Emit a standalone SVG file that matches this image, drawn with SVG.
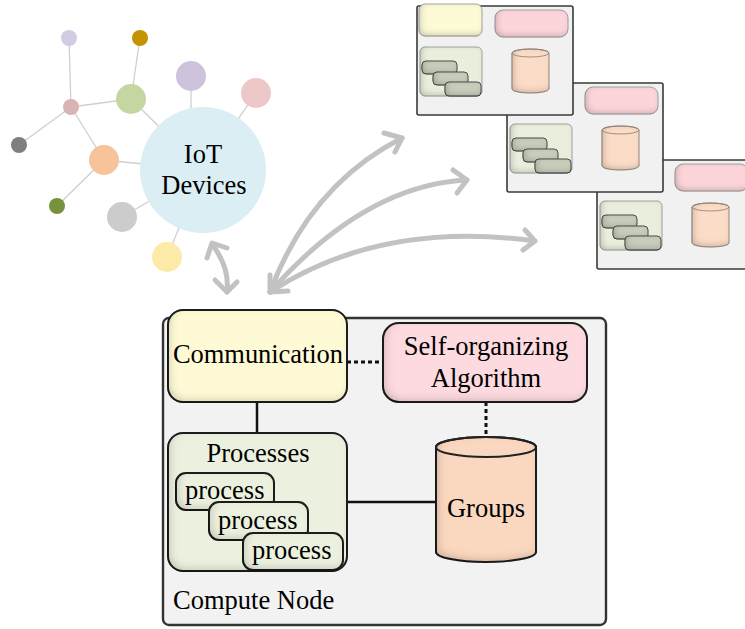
<svg xmlns="http://www.w3.org/2000/svg" width="745" height="629" viewBox="0 0 745 629">
  <style>
    text { font-family: "Liberation Serif", "Times New Roman", serif; font-size: 26.5px; fill: #000; }
    .mid { text-anchor: middle; }
    .net line { stroke: #cfcfcf; stroke-width: 1.3; }
    .frame { fill: #f2f2f2; stroke: #333; stroke-width: 2.4; }
    .box { stroke: #222; stroke-width: 2; filter: url(#inner); }
    .comm { fill: #fffad6; }
    .algo { fill: #fcdadf; }
    .procs { fill: #ebf1de; }
    .proc { fill: #ebf1de; stroke: #222; stroke-width: 2; filter: url(#inner); }
    .cyl { fill: #fad7bf; stroke: #222; stroke-width: 2; filter: url(#inner); }
    .link { stroke: #111; stroke-width: 2.5; fill: none; }
    .dash { stroke: #111; stroke-width: 3; fill: none; stroke-dasharray: 4 3; }
    .flow { stroke: #c2c2c2; stroke-width: 5; fill: none; stroke-linecap: round; stroke-linejoin: round; }
    .mframe { fill: #f1f1f1; stroke: #3a3a3a; stroke-width: 1.6; }
    .mbox { stroke: #9a9a9a; stroke-width: 0.8; filter: url(#innerSmall); }
    .mproc { fill: #c8cebb; stroke: #555; stroke-width: 1; filter: url(#innerSmall); }
    .mcyl { fill: #fbdcc6; stroke: #8a7a70; stroke-width: 0.8; filter: url(#innerSmall); }
  </style>
  <defs>
    <!-- soft inner shading along the lower-left edges -->
    <filter id="inner" x="-5%" y="-5%" width="110%" height="110%">
      <feGaussianBlur in="SourceAlpha" stdDeviation="4"/>
      <feOffset dx="3" dy="-3" result="b"/>
      <feComposite in="SourceAlpha" in2="b" operator="out" result="edge"/>
      <feFlood flood-color="#000" flood-opacity="0.38"/>
      <feComposite in2="edge" operator="in" result="shade"/>
      <feMerge><feMergeNode in="SourceGraphic"/><feMergeNode in="shade"/></feMerge>
    </filter>
    <filter id="innerSmall" x="-5%" y="-5%" width="110%" height="110%">
      <feGaussianBlur in="SourceAlpha" stdDeviation="3"/>
      <feOffset dx="2" dy="-2" result="b"/>
      <feComposite in="SourceAlpha" in2="b" operator="out" result="edge"/>
      <feFlood flood-color="#000" flood-opacity="0.42"/>
      <feComposite in2="edge" operator="in" result="shade"/>
      <feMerge><feMergeNode in="SourceGraphic"/><feMergeNode in="shade"/></feMerge>
    </filter>
    <!-- thumbnail of a compute node -->
    <g id="mini">
      <rect class="mframe" x="417" y="6" width="156" height="109" rx="2"/>
      <rect class="mbox" x="419" y="4" width="63" height="32" rx="6" fill="#fdfad6"/>
      <rect class="mbox" x="495" y="10" width="73" height="27" rx="8" fill="#fcd5da" stroke="#a08088"/>
      <rect class="mbox" x="420" y="47" width="62" height="49" rx="5" fill="#e9efdc"/>
      <rect class="mproc" x="422" y="61" width="35" height="13" rx="4"/>
      <rect class="mproc" x="433" y="72" width="35" height="13" rx="4"/>
      <rect class="mproc" x="445" y="82" width="36" height="14" rx="4"/>
      <path class="mcyl" d="M512,53 V89 A18.5,4 0 0 0 549,89 V53 A18.5,4 0 0 0 512,53 Z"/>
      <ellipse cx="530.5" cy="53" rx="18.5" ry="4" fill="none" stroke="#8a7a70" stroke-width="0.8"/>
    </g>
  </defs>

  <!-- IoT device network -->
  <g id="iot-devices" class="net">
    <line x1="69" y1="38" x2="71" y2="107"/>
    <line x1="140" y1="38" x2="131" y2="99"/>
    <line x1="71" y1="107" x2="131" y2="99"/>
    <line x1="71" y1="107" x2="19" y2="145"/>
    <line x1="71" y1="107" x2="104" y2="160"/>
    <line x1="131" y1="99" x2="203" y2="170"/>
    <line x1="104" y1="160" x2="203" y2="170"/>
    <line x1="104" y1="160" x2="57" y2="206"/>
    <line x1="122" y1="217" x2="203" y2="170"/>
    <line x1="167" y1="257" x2="203" y2="170"/>
    <line x1="191" y1="76" x2="191" y2="170"/>
    <line x1="256" y1="93" x2="203" y2="170"/>
    <circle cx="69" cy="38" r="8" fill="#d3cbe2"/>
    <circle cx="140" cy="38" r="8" fill="#c39400"/>
    <circle cx="191" cy="76" r="15" fill="#cdc3dc"/>
    <circle cx="256" cy="93" r="15" fill="#ecc8c8"/>
    <circle cx="131" cy="99" r="15" fill="#c4d7a3"/>
    <circle cx="71" cy="107" r="8" fill="#d8b4b4"/>
    <circle cx="19" cy="145" r="8" fill="#7f7f7f"/>
    <circle cx="104" cy="160" r="15" fill="#f9c39a"/>
    <circle cx="57" cy="206" r="8" fill="#76923c"/>
    <circle cx="122" cy="217" r="15" fill="#cccccc"/>
    <circle cx="167" cy="257" r="15" fill="#fde9a8"/>
    <circle cx="203" cy="170" r="63" fill="#dbeef4"/>
    <text class="mid" x="203" y="163">IoT</text>
    <text class="mid" x="204" y="194">Devices</text>
  </g>

  <!-- remote compute nodes, back to front -->
  <g id="remote-node-3"><use href="#mini" transform="translate(180,154)"/></g>
  <g id="remote-node-2"><use href="#mini" transform="translate(90,77)"/></g>
  <g id="remote-node-1"><use href="#mini"/></g>

  <!-- compute node -->
  <g id="compute-node">
    <rect class="frame" x="163" y="318" width="443" height="307" rx="6"/>
    <text x="173" y="609">Compute Node</text>
  </g>

  <g id="connectors">
    <line class="link" x1="257" y1="402" x2="257" y2="433"/>
    <line class="link" x1="347" y1="502" x2="437" y2="502"/>
    <line class="dash" x1="347" y1="362" x2="383" y2="362"/>
    <line class="dash" x1="486" y1="402" x2="486" y2="437"/>
    <!-- data flows between node, devices and peers -->
    <path class="flow" d="M212,244 Q230,268 227,292"/>
    <polyline class="flow" points="207,258 212,243 227,248"/>
    <polyline class="flow" points="215,280 227,292 237,282"/>
    <path class="flow" d="M270,292 Q310,185 402,138"/>
    <polyline class="flow" points="384,133 402,138 395,152"/>
    <path class="flow" d="M270,292 Q365,185 467,180"/>
    <polyline class="flow" points="453,170 467,180 457,193"/>
    <path class="flow" d="M270,292 Q380,220 535,241"/>
    <polyline class="flow" points="525,230 535,241 523,250"/>
    <polyline class="flow" points="270,275 270,292 288,291"/>
  </g>

  <g id="communication">
    <rect class="box comm" x="168" y="310" width="179" height="92" rx="15"/>
    <text x="173" y="363" textLength="170">Communication</text>
  </g>

  <g id="self-organizing-algorithm">
    <rect class="box algo" x="383" y="323" width="204" height="79" rx="16"/>
    <text class="mid" x="486" y="355">Self-organizing</text>
    <text class="mid" x="486" y="387">Algorithm</text>
  </g>

  <g id="processes">
    <rect class="box procs" x="168" y="433" width="179" height="138" rx="15"/>
    <text class="mid" x="258" y="462">Processes</text>
  </g>
  <g id="process-1">
    <rect class="proc" x="176" y="473" width="98" height="37" rx="10"/>
    <text x="185" y="499">process</text>
  </g>
  <g id="process-2">
    <rect class="proc" x="209" y="502" width="99" height="38" rx="10"/>
    <text x="218" y="529">process</text>
  </g>
  <g id="process-3">
    <rect class="proc" x="243" y="533" width="100" height="37" rx="10"/>
    <text x="252" y="559">process</text>
  </g>

  <g id="groups">
    <path class="cyl" d="M436,447 V552 A50,10 0 0 0 536,552 V447 A50,10 0 0 0 436,447 Z"/>
    <ellipse cx="486" cy="447" rx="50" ry="10" fill="none" stroke="#222" stroke-width="2"/>
    <text class="mid" x="486" y="517">Groups</text>
  </g>
</svg>
